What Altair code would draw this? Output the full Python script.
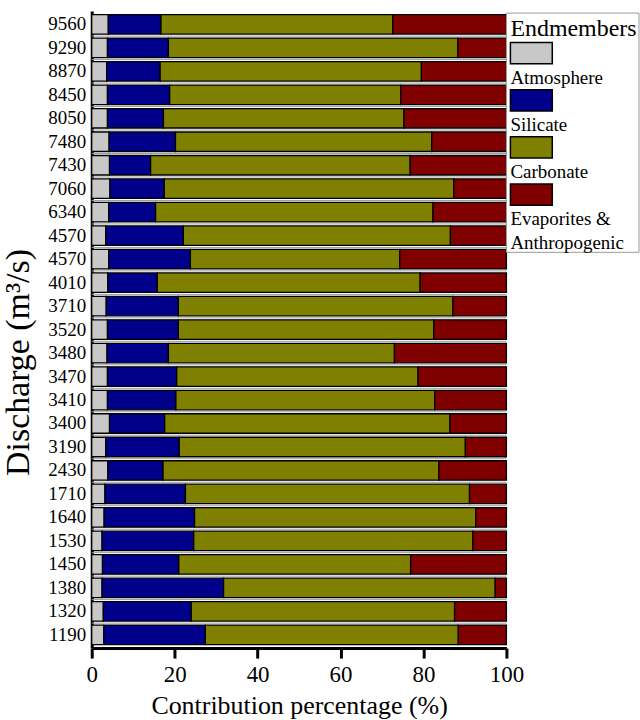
import altair as alt
import pandas as pd

# Discharge of each sample (m3/s), listed top to bottom
discharge = [9560, 9290, 8870, 8450, 8050, 7480, 7430, 7060, 6340, 4570, 4570,
             4010, 3710, 3520, 3480, 3470, 3410, 3400, 3190, 2430, 1710, 1640,
             1530, 1450, 1380, 1320, 1190]

# Contribution of each endmember (%)
atmosphere = [4.0, 3.8, 3.6, 3.8, 3.8, 4.2, 4.3, 4.4, 4.1, 3.4, 4.1, 3.9, 3.5, 3.8,
              3.7, 3.8, 3.8, 4.3, 3.4, 3.9, 3.2, 3.0, 2.5, 2.6, 2.5, 2.8, 2.9]
silicate = [12.7, 14.7, 12.9, 15.0, 13.5, 16.0, 9.9, 13.1, 11.3, 18.7, 19.7, 11.9,
            17.4, 17.1, 14.8, 16.7, 16.5, 13.3, 17.7, 13.3, 19.4, 21.8, 22.1, 18.4,
            29.3, 21.2, 24.5]
carbonate = [55.9, 69.8, 63.0, 55.7, 58.0, 61.8, 62.6, 69.8, 66.9, 64.4, 50.5, 63.4,
             66.2, 61.6, 54.5, 58.2, 62.4, 68.8, 69.0, 66.5, 68.5, 67.8, 67.3, 55.9,
             65.5, 63.5, 61.0]
evaporites = [27.4, 11.7, 20.5, 25.5, 24.7, 18.0, 23.2, 12.7, 17.7, 13.5, 25.7, 20.8,
              12.9, 17.5, 27.0, 21.3, 17.3, 13.6, 9.9, 16.3, 8.9, 7.4, 8.1, 23.1,
              2.7, 12.5, 11.6]

endmembers = ["Atmosphere", "Silicate", "Carbonate", "Evaporites & Anthropogenic"]
legend_labels = ["Atmosphere", "Silicate", "Carbonate",
                 "\u00a0Evaporites &\n\u00a0Anthropogenic"]
colors = ["#c8c8c8", "#00008b", "#808000", "#800000"]

FONT = "Liberation Serif"
W, H = 416, 639

# one unique key per row so the repeated discharge value keeps its own bar
keys = [f"{d}|{i}" for i, d in enumerate(discharge)]
records = []
for i, k in enumerate(keys):
    for j, (name, vals) in enumerate(zip(endmembers,
                                         [atmosphere, silicate, carbonate, evaporites])):
        records.append({"key": k, "Endmember": name, "pct": vals[i], "order": j})
df = pd.DataFrame(records)

color_scale = alt.Scale(domain=endmembers, range=colors)
y_scale = alt.Scale(paddingInner=0.17, paddingOuter=0.15)

bars = alt.Chart(df).mark_bar(stroke="black", strokeWidth=1.3).encode(
    x=alt.X("pct:Q", stack="zero",
            scale=alt.Scale(domain=[0, 100], nice=False),
            title="Contribution percentage (%)",
            axis=alt.Axis(values=[0, 20, 40, 60, 80, 100], grid=False,
                          labelFont=FONT, titleFont=FONT,
                          labelColor="black", titleColor="black",
                          titleFontWeight="normal",
                          labelFontSize=23, titleFontSize=26, labelFlush=False,
                          domainWidth=3, domainColor="black",
                          tickWidth=3, tickColor="black", tickSize=10,
                          labelPadding=6, titleY=45)),
    y=alt.Y("key:N", sort=keys, scale=y_scale,
            title="Discharge (m³/s)",
            axis=alt.Axis(labelExpr="split(datum.label, '|')[0]",
                          labelFont=FONT, titleFont=FONT,
                          labelColor="black", titleColor="black",
                          titleFontWeight="normal",
                          labelFontSize=19, ticks=False,
                          domainWidth=3, domainColor="black",
                          labelPadding=6, titleFontSize=34, titlePadding=12,
                          titleY=352)),
    color=alt.Color("Endmember:N", scale=color_scale, legend=None),
    order=alt.Order("order:Q"),
)

# thin separators in the white gaps between rows
sep_df = pd.DataFrame({"key": keys[1:]})
separators = alt.Chart(sep_df).mark_rule(color="#9a9a9a", strokeWidth=1).encode(
    y=alt.Y("key:N", sort=keys, scale=y_scale, bandPosition=0),
    yOffset=alt.value(-2),
    x=alt.value(0),
    x2=alt.value(W),
)

main = alt.layer(separators, bars).properties(width=W, height=H)

# legend panel: swatches with their names underneath
leg_df = pd.DataFrame({"Endmember": endmembers, "label": legend_labels})
leg_y = alt.Scale(domain=endmembers, paddingInner=0.55, paddingOuter=0.83, align=0.4)
LW, LH = 133, 242

box = alt.Chart(pd.DataFrame({"t": [0]})).mark_rect(
    fill="white", stroke="#9a9a9a", strokeWidth=1).encode(
    x=alt.value(0), x2=alt.value(LW), y=alt.value(2), y2=alt.value(LH))

leg_title = alt.Chart(pd.DataFrame({"t": ["Endmembers"]})).mark_text(
    align="left", baseline="alphabetic", font=FONT, fontSize=24, color="black").encode(
    x=alt.value(4), y=alt.value(25), text="t:N")

swatches = alt.Chart(leg_df).mark_rect(stroke="black", strokeWidth=1.5).encode(
    x=alt.value(4), x2=alt.value(46),
    y=alt.Y("Endmember:N", sort=endmembers, scale=leg_y, axis=None),
    color=alt.Color("Endmember:N", scale=color_scale, legend=None),
)

leg_text = alt.Chart(leg_df).mark_text(
    align="left", baseline="alphabetic", dy=20, font=FONT, fontSize=19,
    lineBreak="\n", lineHeight=24, color="black").encode(
    x=alt.value(4),
    y=alt.Y("Endmember:N", sort=endmembers, scale=leg_y, axis=None, bandPosition=1),
    text="label:N",
)

legend_panel = alt.layer(box, leg_title, swatches, leg_text).properties(width=LW, height=LH)

chart = alt.hconcat(main, legend_panel, spacing=0, bounds="flush").resolve_scale(
    y="independent"
).properties(
    padding={"left": 2, "top": 10, "right": 0, "bottom": 0},
    background="white",
).configure_view(
    strokeWidth=0
)

chart.save("out.html", embed_options={"renderer": "svg", "actions": False})
